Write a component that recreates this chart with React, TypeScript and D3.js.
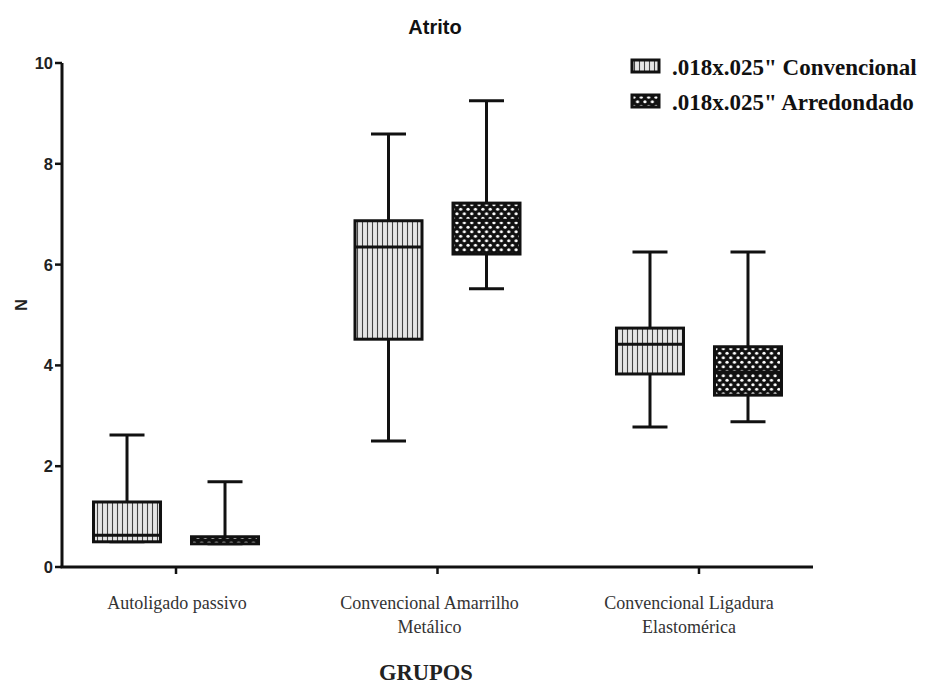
import React from "react";
import * as d3 from "d3";

const groups = ["Autoligado passivo", "Convencional Amarrilho\nMetálico", "Convencional Ligadura\nElastomérica"];
const seriesNames = ['.018x.025" Convencional', '.018x.025" Arredondado'];
// [min, q1, median, q3, max] per group, per series
const convencional = [
  [0.5, 0.5, 0.63, 1.29, 2.62],
  [2.5, 4.52, 6.35, 6.87, 8.59],
  [2.78, 3.83, 4.42, 4.74, 6.25],
];
const arredondado = [
  [0.46, 0.46, 0.53, 0.6, 1.69],
  [5.52, 6.21, 6.88, 7.22, 9.25],
  [2.88, 3.41, 3.87, 4.37, 6.25],
];
const yTicks = [0, 2, 4, 6, 8, 10];

const W = 928, H = 684;
const labelShift = [1, -8, -10];

export default function App() {
  const y = d3.scaleLinear().domain([0, 10]).range([567, 63]);
  const x = d3.scalePoint<string>().domain(groups).range([62, 813]).padding(0.436);
  const offset = 49;
  const boxW = 67;
  const capW = 35;
  const series = [convencional, arredondado];
  const fills = ["url(#stripes)", "url(#checker)"];
  const sans = "Liberation Sans, Arial, sans-serif";
  const serif = "Liberation Serif, Times New Roman, serif";

  return (
    <svg width={W} height={H} style={{ position: "absolute", left: 0, top: 0, background: "#fff" }}>
      <defs>
        <pattern id="stripes" patternUnits="userSpaceOnUse" width={5} height={10}>
          <rect width={5} height={10} fill="#e6e6e6" />
          <line x1={2.5} x2={2.5} y1={0} y2={10} stroke="#444" strokeWidth={1.1} />
        </pattern>
        <pattern id="checker" patternUnits="userSpaceOnUse" width={7.4} height={9}>
          <rect width={7.4} height={9} fill="#111" />
          <circle cx={1.85} cy={2.25} r={1.6} fill="#fff" />
          <circle cx={5.55} cy={6.75} r={1.6} fill="#fff" />
        </pattern>
      </defs>

      <text x={435} y={34} textAnchor="middle" fontFamily={sans} fontWeight="bold" fontSize={20} fill="#111">Atrito</text>

      {/* y axis */}
      <line x1={62} x2={62} y1={y(10)} y2={y(0)} stroke="#111" strokeWidth={3} />
      {yTicks.map((t) => (
        <g key={t}>
          <line x1={55} x2={62} y1={y(t)} y2={y(t)} stroke="#111" strokeWidth={2.5} />
          <text x={53} y={y(t)} dy="0.36em" textAnchor="end" fontFamily={sans} fontWeight="bold" fontSize={16.5} fill="#222">{t}</text>
        </g>
      ))}
      <text transform={`translate(27,${305}) rotate(-90)`} textAnchor="middle" fontFamily={sans} fontWeight="bold" fontSize={16} fill="#222">N</text>

      {/* x axis */}
      <line x1={60.5} x2={813} y1={y(0)} y2={y(0)} stroke="#111" strokeWidth={3} />
      {groups.map((g, gi) => (
        <g key={g}>
          <line x1={x(g)!} x2={x(g)!} y1={y(0)} y2={y(0) + 7} stroke="#111" strokeWidth={2.5} />
          {g.split("\n").map((ln, i) => (
            <text key={i} x={x(g)! + labelShift[gi]} y={609 + i * 24} textAnchor="middle" fontFamily={serif} fontSize={18} fill="#333">{ln}</text>
          ))}
        </g>
      ))}
      <text x={426} y={680} textAnchor="middle" fontFamily={serif} fontWeight="bold" fontSize={22.5} fill="#222">GRUPOS</text>

      {/* boxes */}
      {series.map((s, si) =>
        groups.map((g, gi) => {
          const [mn, q1, md, q3, mx] = s[gi];
          const cx = x(g)! + (si === 0 ? -offset : offset);
          return (
            <g key={`${si}-${gi}`}>
              <line x1={cx} x2={cx} y1={y(mx)} y2={y(q3)} stroke="#111" strokeWidth={3} />
              <line x1={cx} x2={cx} y1={y(q1)} y2={y(mn)} stroke="#111" strokeWidth={3} />
              <line x1={cx - capW / 2} x2={cx + capW / 2} y1={y(mx)} y2={y(mx)} stroke="#111" strokeWidth={3} />
              <line x1={cx - capW / 2} x2={cx + capW / 2} y1={y(mn)} y2={y(mn)} stroke="#111" strokeWidth={3} />
              <rect x={cx - boxW / 2} y={y(q3)} width={boxW} height={Math.max(0, y(q1) - y(q3))} fill={fills[si]} stroke="#111" strokeWidth={3} />
              <line x1={cx - boxW / 2} x2={cx + boxW / 2} y1={y(md)} y2={y(md)} stroke="#111" strokeWidth={3} />
            </g>
          );
        })
      )}

      {/* legend */}
      {seriesNames.map((n, i) => (
        <g key={n} transform={`translate(632,${60 + i * 35})`}>
          <rect x={0} y={0} width={27} height={12} fill={fills[i]} stroke="#111" strokeWidth={3} />
          <text x={40} y={14.5} fontFamily={serif} fontWeight="bold" fontSize={23} fill="#111">{n}</text>
        </g>
      ))}
    </svg>
  );
}
